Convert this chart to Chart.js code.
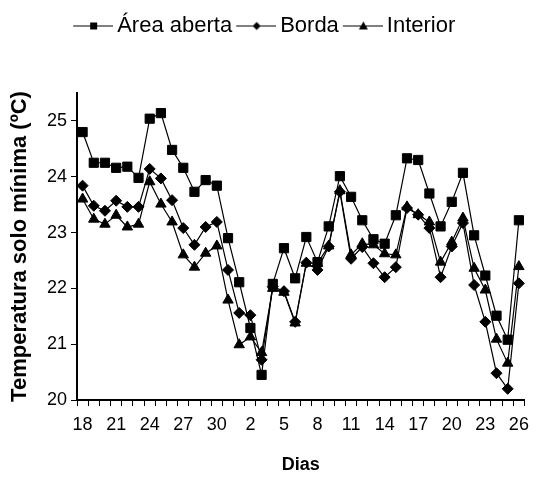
<!DOCTYPE html>
<html>
<head>
<meta charset="utf-8">
<script src="https://cdn.jsdelivr.net/npm/chart.js@4"></script>
<style>
html, body { margin: 0; padding: 0; background: #fff; }
</style>
</head>
<body>
<canvas id="grafico" width="537" height="477"></canvas>
<script>
const dias = ['18','19','20','21','22','23','24','25','26','27','28','29','30','31',
    '1','2','3','4','5','6','7','8','9','10','11','12','13','14','15','16','17',
    '18','19','20','21','22','23','24','25','26'];

const areaAberta = [24.80, 24.25, 24.25, 24.16, 24.18, 23.98, 25.04, 25.14, 24.48, 24.16,
    23.73, 23.94, 23.84, 22.90, 22.11, 21.29, 20.45, 22.08, 22.72, 22.18,
    22.92, 22.47, 23.11, 24.01, 23.64, 23.22, 22.88, 22.80, 23.31, 24.33,
    24.30, 23.70, 23.11, 23.55, 24.07, 22.95, 22.23, 21.51, 21.08, 23.22];

const borda = [23.84, 23.48, 23.39, 23.57, 23.46, 23.46, 24.14, 23.97, 23.58, 23.08,
    22.78, 23.10, 23.19, 22.33, 21.56, 21.52, 20.72, 22.03, 21.95, 21.40,
    22.46, 22.33, 22.75, 23.73, 22.53, 22.74, 22.45, 22.20, 22.38, 23.44,
    23.32, 23.08, 22.20, 22.75, 23.17, 22.06, 21.40, 20.48, 20.20, 22.09];

const interior = [23.60, 23.24, 23.15, 23.31, 23.10, 23.15, 23.91, 23.51, 23.19, 22.60,
    22.38, 22.63, 22.76, 21.79, 20.99, 21.13, 20.85, 22.00, 21.93, 21.38,
    22.45, 22.45, 22.76, 23.75, 22.60, 22.80, 22.78, 22.62, 22.60, 23.46,
    23.32, 23.19, 22.47, 22.83, 23.26, 22.36, 21.97, 21.09, 20.66, 22.39];

const fonte = '"Liberation Sans", Arial, sans-serif';

// petit dessin ligne + marqueur pour la légende
function icone(estilo) {
    const c = document.createElement('canvas');
    c.width = 47; c.height = 13;
    const g = c.getContext('2d');
    g.strokeStyle = '#000'; g.fillStyle = '#000'; g.lineWidth = 1;
    g.beginPath(); g.moveTo(7, 6.5); g.lineTo(47, 6.5); g.stroke();
    g.beginPath();
    if (estilo === 'rect') {
        g.rect(24, 3, 7, 7);
    } else if (estilo === 'rectRot') {
        g.moveTo(27.5, 2.5); g.lineTo(31.5, 6.5); g.lineTo(27.5, 10.5); g.lineTo(23.5, 6.5);
    } else {
        g.moveTo(27.5, 2); g.lineTo(32, 10); g.lineTo(23, 10);
    }
    g.closePath(); g.fill();
    return c;
}

const legendeHauteur = {
    id: 'legendeHauteur',
    beforeInit(chart) {
        const fit = chart.legend.fit;
        chart.legend.fit = function() {
            fit.bind(chart.legend)();
            this.height = 82;
        };
    }
};

function serie(label, data, style, rayon) {
    return {
        label: label,
        data: data,
        borderColor: '#000',
        backgroundColor: '#000',
        borderWidth: 1.2,
        pointStyle: style,
        pointRadius: rayon,
        pointHoverRadius: rayon,
        pointBorderWidth: 1,
        tension: 0,
        fill: false
    };
}

new Chart(document.getElementById('grafico'), {
    type: 'line',
    data: {
        labels: dias,
        datasets: [
            serie('Área aberta', areaAberta, 'rect', 6.5),
            serie('Borda', borda, 'rectRot', 5.5),
            serie('Interior', interior, 'triangle', 6)
        ]
    },
    options: {
        responsive: false,
        animation: false,
        layout: { padding: { top: 11, right: 8.5, left: 0, bottom: 0 } },
        plugins: {
            tooltip: { enabled: false },
            legend: {
                position: 'top',
                labels: {
                    usePointStyle: true,
                    pointStyleWidth: 33,
                    padding: 4,
                    color: '#000',
                    font: { family: fonte, size: 22 },
                    generateLabels: (chart) => chart.data.datasets.map((ds, i) => ({
                        text: ds.label,
                        pointStyle: icone(ds.pointStyle),
                        datasetIndex: i,
                        fillStyle: '#000',
                        strokeStyle: '#000',
                        fontColor: '#000',
                        lineWidth: 0,
                        hidden: false
                    }))
                }
            }
        },
        scales: {
            x: {
                type: 'category',
                offset: true,
                afterFit: (s) => { s.height = 77; },
                grid: { offset: true, drawOnChartArea: false, tickLength: 6, color: '#000', lineWidth: 1 },
                border: { color: '#000', width: 2 },
                ticks: {
                    autoSkip: false,
                    maxRotation: 0,
                    padding: 8,
                    color: '#000',
                    font: { family: fonte, size: 18 },
                    callback: function(v, i) { return i % 3 === 0 ? dias[i] : ''; }
                },
                title: {
                    display: true,
                    text: 'Dias',
                    color: '#000',
                    font: { family: fonte, size: 18, weight: 'bold' },
                    padding: { top: 0, bottom: 1 }
                }
            },
            y: {
                min: 20,
                max: 25.5,
                afterFit: (s) => { s.width = 77; },
                grid: { drawOnChartArea: false, tickLength: 6, color: '#000', lineWidth: 1 },
                border: { color: '#000', width: 2 },
                ticks: {
                    stepSize: 1,
                    includeBounds: false,
                    padding: 4,
                    color: '#000',
                    font: { family: fonte, size: 18 }
                },
                title: {
                    display: true,
                    text: 'Temperatura solo mínima (ºC)',
                    color: '#000',
                    font: { family: fonte, size: 22, weight: 'bold' },
                    padding: { top: 7, bottom: 0 }
                }
            }
        }
    },
    plugins: [legendeHauteur]
});
</script>
</body>
</html>
